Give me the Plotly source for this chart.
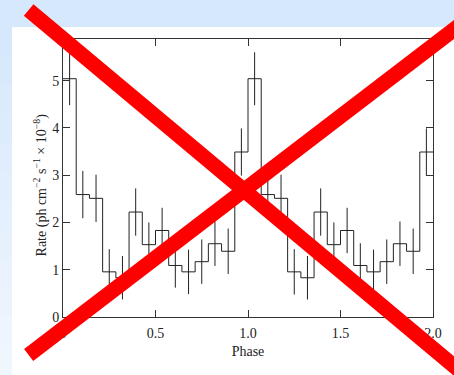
import plotly.graph_objects as go

# ---- data ----
n_bins = 28  # 14 bins per phase cycle, two cycles shown
rate = [5.04, 2.59, 2.51, 0.955, 0.83, 2.22, 1.53, 1.83, 1.09, 0.955, 1.17, 1.55, 1.39, 3.49,
        5.04, 2.59, 2.51, 0.955, 0.83, 2.22, 1.53, 1.83, 1.09, 0.955, 1.17, 1.55, 1.39, 3.49]
rate_err = [0.56, 0.50, 0.50, 0.48, 0.46, 0.50, 0.47, 0.48, 0.47, 0.47, 0.47, 0.47, 0.48, 0.50,
            0.56, 0.50, 0.50, 0.48, 0.46, 0.50, 0.47, 0.48, 0.47, 0.47, 0.47, 0.47, 0.48, 0.50]
x_tickvals = [0, 0.5, 1.0, 1.5, 2.0]
x_ticktext = ["0", "0.5", "1.0", "1.5", "2.0"]
y_tickvals = [0, 1, 2, 3, 4, 5]
y_ticktext = ["0", "1", "2", "3", "4", "5"]
y_title = "Rate (ph cm<sup>−2</sup> s<sup>−1</sup> × 10<sup>−8</sup>)"
x_title = "Phase"

edges = [2.0 * k / n_bins for k in range(n_bins + 1)]
centers = [(edges[k] + edges[k + 1]) / 2 for k in range(n_bins)]

W, H = 454, 375
ML, MR, MT, MB = 63, 14, 39, 58
PW, PH = W - ML - MR, H - MT - MB


def px(X):
    return (X - ML) / PW


def py(Y):
    return (H - MB - Y) / PH


FONT = "Liberation Serif, Times New Roman, serif"

fig = go.Figure()
fig.add_trace(go.Scatter(
    x=edges, y=rate + [rate[-1]], mode="lines", line=dict(shape="hv", color="#222", width=1),
    hoverinfo="skip", showlegend=False))
fig.add_trace(go.Scatter(
    x=centers, y=rate, mode="markers", marker=dict(size=0.1, color="rgba(0,0,0,0)"),
    error_y=dict(type="data", array=rate_err, visible=True, thickness=1, width=0, color="#222"),
    showlegend=False))

shapes = []
# background: white panel over light blue page
shapes.append(dict(type="rect", xref="paper", yref="paper", x0=px(11), x1=px(480), y0=py(400), y1=py(27),
                   fillcolor="white", line=dict(width=0), layer="below"))
# left strip gradient
n_g = 12
top_c = (0xd6, 0xe8, 0xfb)
bot_c = (0xf0, 0xf6, 0xfe)
for i in range(n_g):
    t = i / (n_g - 1)
    c = tuple(int(round(top_c[j] + (bot_c[j] - top_c[j]) * t)) for j in range(3))
    Y0 = 27 + (H - 27) * i / n_g
    Y1 = 27 + (H - 27) * (i + 1) / n_g + 1
    shapes.append(dict(type="rect", xref="paper", yref="paper", x0=px(-5), x1=px(11),
                       y0=py(Y1), y1=py(Y0), fillcolor="rgb(%d,%d,%d)" % c,
                       line=dict(width=0), layer="below"))
# red cross
shapes.append(dict(type="line", xref="paper", yref="paper",
                   x0=px(28), y0=py(10), x1=px(480), y1=py(10 + 452 * 0.8216),
                   line=dict(color="#ff0000", width=15), layer="above"))
shapes.append(dict(type="line", xref="paper", yref="paper",
                   x0=px(28), y0=py(355), x1=px(480), y1=py(355 - 452 * 0.751),
                   line=dict(color="#ff0000", width=15), layer="above"))

fig.update_layout(
    width=W, height=H,
    margin=dict(l=ML, r=MR, t=MT, b=MB, pad=0),
    paper_bgcolor="#d6e8fb",
    plot_bgcolor="white",
    font=dict(family=FONT, size=14, color="#222"),
    shapes=shapes,
    showlegend=False,
    annotations=[dict(text=y_title, xref="paper", yref="paper", x=px(40), y=py(185),
                      textangle=-90, showarrow=False, xanchor="center", yanchor="middle",
                      font=dict(family=FONT, size=14, color="#222"))],
)
fig.update_xaxes(
    range=[0, 2], tickvals=x_tickvals, ticktext=x_ticktext,
    ticks="inside", ticklen=7, tickcolor="#333", tickwidth=1,
    showline=True, linecolor="#333", linewidth=1, mirror="ticks",
    showgrid=False, zeroline=False, ticklabelstandoff=3,
    tickfont=dict(family=FONT, size=14),
    title=dict(text=x_title, font=dict(family=FONT, size=14), standoff=6),
)
fig.update_yaxes(
    range=[0, 5.88], tickvals=y_tickvals, ticktext=y_ticktext,
    ticks="inside", ticklen=7, tickcolor="#333", tickwidth=1,
    showline=True, linecolor="#333", linewidth=1, mirror="ticks",
    showgrid=False, zeroline=False,
    tickfont=dict(family=FONT, size=14),
)

fig.write_html(
    "out.html",
    config={"displayModeBar": False},
    post_script="document.body.style.margin='0';document.body.style.overflow='hidden';"
                "document.documentElement.style.overflow='hidden';",
)
